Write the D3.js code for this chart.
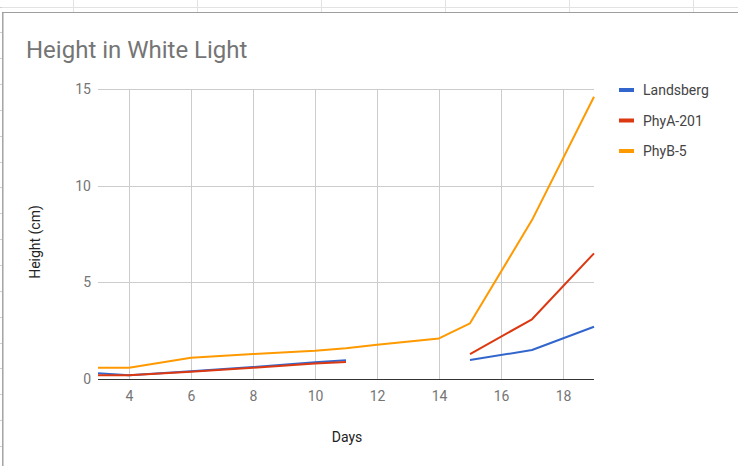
<!DOCTYPE html>
<html><head><meta charset="utf-8">
<script src="https://cdn.jsdelivr.net/npm/d3@7"></script>
<style>html,body{margin:0;padding:0;background:#fff;}svg{display:block;font-family:Roboto,sans-serif;}</style>
</head><body>
<svg id="c" width="738" height="466"></svg>
<script>
const title = "Height in White Light";
const xTitle = "Days";
const yTitle = "Height (cm)";
const days = [3, 4, 6, 8, 10, 11, 12, 14, 15, 17, 19];
const seriesNames = ["Landsberg", "PhyA-201", "PhyB-5"];
const landsberg = [0.3, 0.2, 0.4, 0.62, 0.87, 0.97, null, null, 0.98, 1.5, 2.7];
const phyA201 = [0.2, 0.2, 0.38, 0.58, 0.8, 0.88, null, null, 1.29, 3.09, 6.5];
const phyB5 = [0.58, 0.58, 1.1, 1.29, 1.46, 1.59, 1.77, 2.1, 2.88, 8.22, 14.6];
const xTicks = [4, 6, 8, 10, 12, 14, 16, 18];
const yTicks = [0, 5, 10, 15];
const colors = ["#3366cc", "#dc3912", "#ff9900"];

const svg = d3.select("#c");

// spreadsheet background frame
const bg = svg.append("g");
bg.append("line").attr("x1", 0).attr("x2", 738).attr("y1", 7.5).attr("y2", 7.5).attr("stroke", "#e2e2e2");
[73, 197, 321, 445, 569, 693].forEach(x => bg.append("line").attr("x1", x + 0.5).attr("x2", x + 0.5).attr("y1", 0).attr("y2", 12).attr("stroke", "#e2e2e2"));
for (let y = 6.5; y < 466; y += 25.85) bg.append("line").attr("x1", 0).attr("x2", 2).attr("y1", Math.round(y) + 0.5).attr("y2", Math.round(y) + 0.5).attr("stroke", "#d0d0d0");
bg.append("line").attr("x1", 2).attr("x2", 738).attr("y1", 12.5).attr("y2", 12.5).attr("stroke", "#9e9e9e").attr("stroke-width", 1.2);
bg.append("line").attr("x1", 2.8).attr("x2", 2.8).attr("y1", 12).attr("y2", 466).attr("stroke", "#9e9e9e").attr("stroke-width", 1.4);

const x = d3.scaleLinear().domain([3, 19]).range([98, 594]);
const y = d3.scaleLinear().domain([0, 15]).range([379, 89]);

// title
svg.append("text").attr("x", 26).attr("y", 58).attr("font-size", 24).attr("fill", "#757575").text(title);

// gridlines
const grid = svg.append("g");
grid.selectAll("line.v").data(xTicks).join("line")
  .attr("x1", d => Math.round(x(d)) + 0.5).attr("x2", d => Math.round(x(d)) + 0.5)
  .attr("y1", y(15)).attr("y2", y(0)).attr("stroke", "#cccccc");
grid.selectAll("line.h").data(yTicks.filter(d => d > 0)).join("line")
  .attr("x1", x(3)).attr("x2", x(19))
  .attr("y1", d => Math.round(y(d)) + 0.5).attr("y2", d => Math.round(y(d)) + 0.5).attr("stroke", "#cccccc");

// y axis labels
const ya = svg.append("g").attr("transform", "translate(91,0)")
  .call(d3.axisLeft(y).tickValues(yTicks).tickSize(0).tickPadding(0).tickFormat(d3.format("d")));
ya.select(".domain").remove();
ya.selectAll("text").attr("font-size", 14).attr("fill", "#757575").attr("font-family", "Roboto,sans-serif");

// x axis labels
const xa = svg.append("g").attr("transform", "translate(0,391)")
  .call(d3.axisBottom(x).tickValues(xTicks).tickSize(0).tickPadding(0).tickFormat(d3.format("d")));
xa.select(".domain").remove();
xa.selectAll("text").attr("font-size", 14).attr("fill", "#757575").attr("font-family", "Roboto,sans-serif");

// axis titles
svg.append("text").attr("x", 347).attr("y", 442).attr("text-anchor", "middle").attr("font-size", 14).attr("fill", "#222").text(xTitle);
svg.append("text").attr("transform", "translate(40,242) rotate(-90)").attr("text-anchor", "middle").attr("font-size", 14).attr("fill", "#222").text(yTitle);

// lines
const seriesData = [landsberg, phyA201, phyB5];
const line = d3.line().defined(d => d[1] !== null).x(d => x(d[0])).y(d => y(d[1]));
seriesData.forEach((vals, i) => {
  svg.append("path").datum(days.map((d, j) => [d, vals[j]]))
    .attr("d", line).attr("fill", "none").attr("stroke", colors[i]).attr("stroke-width", 2)
    .attr("stroke-linejoin", "round");
});

// baseline
svg.append("line").attr("x1", x(3)).attr("x2", x(19)).attr("y1", Math.round(y(0)) + 0.5).attr("y2", Math.round(y(0)) + 0.5).attr("stroke", "#333333");

// legend
const lg = svg.append("g");
seriesNames.forEach((n, i) => {
  const cy = 90 + i * 30.5;
  lg.append("rect").attr("x", 619).attr("y", cy - 2).attr("width", 15).attr("height", 4).attr("fill", colors[i]);
  lg.append("text").attr("x", 643).attr("y", cy + 5).attr("font-size", 14).attr("fill", "#444").text(n);
});
</script>
</body></html>
